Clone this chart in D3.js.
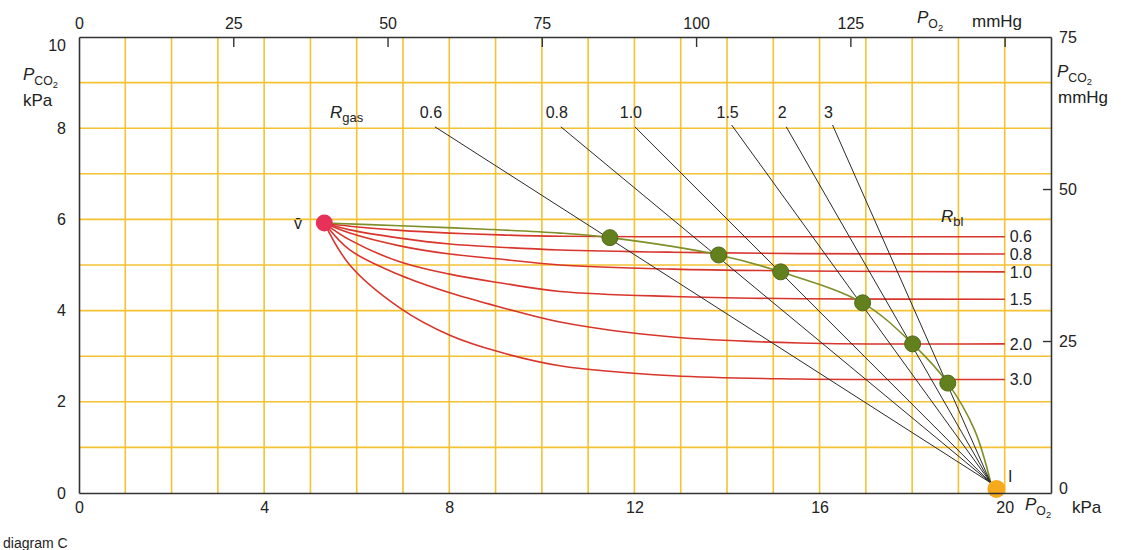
<html>
  <head>
    <meta charset="utf-8">
    <title>O2-CO2 diagram</title>
    <script src="https://d3js.org/d3.v7.min.js"></script>
    <style>
      body { margin: 0; background: #fff; }
      text { font-family: "Liberation Sans", Arial, sans-serif; fill: #222; }
    </style>
  </head>
  <body>
    <svg width="1121" height="550"></svg>

    <script type="text/javascript">
      // axis ticks
      var bottomTicks = [0, 4, 8, 12, 16, 20];          // PO2 kPa
      var leftTicks = [0, 2, 4, 6, 8, 10];              // PCO2 kPa
      var topTicksMmHg = [0, 25, 50, 75, 100, 125, 150]; // PO2 mmHg
      var rightTicksMmHg = [0, 25, 50, 75];             // PCO2 mmHg

      // special points (PO2 kPa, PCO2 kPa)
      var venous = [5.3, 5.92];
      var inspired = [19.82, 0.09];
      var gasFocus = [19.7, 0.22];

      // R gas lines: label + upper end
      var rGasLabels = ["0.6", "0.8", "1.0", "1.5", "2", "3"];
      var rGasStartPO2 = [7.69, 10.41, 12.01, 14.10, 15.28, 16.28];
      var rGasStartPCO2 = [8.03, 8.03, 8.03, 8.07, 8.03, 8.07];

      // R blood curves, read at these PO2 values
      var rBlLabels = ["0.6", "0.8", "1.0", "1.5", "2.0", "3.0"];
      var rBlPO2 = [5.3, 5.85, 6.93, 8.01, 9.09, 10.39, 12.83, 15.57, 20.0];
      var rBl06 = [5.92, 5.85, 5.76, 5.70, 5.66, 5.63, 5.62, 5.62, 5.62];
      var rBl08 = [5.92, 5.77, 5.59, 5.46, 5.39, 5.33, 5.28, 5.25, 5.24];
      var rBl10 = [5.92, 5.70, 5.42, 5.24, 5.13, 5.00, 4.91, 4.87, 4.85];
      var rBl15 = [5.92, 5.55, 5.07, 4.80, 4.61, 4.42, 4.31, 4.26, 4.25];
      var rBl20 = [5.92, 5.33, 4.78, 4.39, 4.08, 3.75, 3.42, 3.29, 3.27];
      var rBl30 = [5.92, 5.00, 4.06, 3.46, 3.09, 2.79, 2.57, 2.50, 2.49];

      // green curve (v-bar to I)
      var greenPO2 = [5.3, 6.93, 8.66, 10.39, 11.47, 13.82, 15.16, 16.93, 18.01, 18.77, 19.35, 19.7];
      var greenPCO2 = [5.92, 5.86, 5.79, 5.70, 5.60, 5.22, 4.85, 4.17, 3.27, 2.41, 1.38, 0.22];

      // green dots where R gas = R blood
      var dotPO2 = [11.47, 13.82, 15.16, 16.93, 18.01, 18.77];
      var dotPCO2 = [5.60, 5.22, 4.85, 4.17, 3.27, 2.41];

      var KPA2MMHG = 7.50062;
      var xScale = d3.scaleLinear().domain([0, 21]).range([79, 1051]);
      var yScale = d3.scaleLinear().domain([0, 10]).range([493, 37]);
      var xMm = d3.scaleLinear().domain([0, 21 * KPA2MMHG]).range([79, 1051]);
      var yMm = d3.scaleLinear().domain([0, 10 * KPA2MMHG]).range([493, 37]);

      var svg = d3.select("svg");

      // grid
      var grid = svg.append("g").attr("stroke", "#f4c232").attr("stroke-width", 1.6);
      grid.selectAll(".vg")
          .data(xScale.ticks(21).filter(d => d > 0 && d < 21))
          .enter().append("line")
          .attr("x1", d => xScale(d)).attr("x2", d => xScale(d))
          .attr("y1", yScale(10)).attr("y2", yScale(0));
      grid.selectAll(".hg")
          .data(yScale.ticks(10).filter(d => d > 0 && d < 10))
          .enter().append("line")
          .attr("x1", xScale(0)).attr("x2", xScale(21))
          .attr("y1", d => yScale(d)).attr("y2", d => yScale(d));

      var line = d3.line().x(d => xScale(d[0])).y(d => yScale(d[1])).curve(d3.curveCatmullRom.alpha(0.5));

      // red R blood curves
      var rBlSeries = [rBl06, rBl08, rBl10, rBl15, rBl20, rBl30];
      svg.append("g").selectAll("path")
          .data(rBlSeries)
          .enter().append("path")
          .attr("d", s => line(s.map((v, i) => [rBlPO2[i], v])))
          .attr("fill", "none")
          .attr("stroke", "#d8352c")
          .attr("stroke-width", 1.6);

      svg.append("g").selectAll("text")
          .data(rBlSeries)
          .enter().append("text")
          .attr("x", xScale(20) + 5)
          .attr("y", s => yScale(s[s.length - 1]))
          .attr("dy", "0.36em")
          .attr("font-size", 16)
          .text((s, i) => rBlLabels[i]);

      // green curve
      svg.append("path")
          .attr("d", line(greenPO2.map((v, i) => [v, greenPCO2[i]])))
          .attr("fill", "none")
          .attr("stroke", "#7d8f27")
          .attr("stroke-width", 1.6);

      // black R gas lines
      svg.append("g").selectAll("line")
          .data(rGasLabels)
          .enter().append("line")
          .attr("x1", (d, i) => xScale(rGasStartPO2[i]))
          .attr("y1", (d, i) => yScale(rGasStartPCO2[i]))
          .attr("x2", xScale(gasFocus[0]))
          .attr("y2", yScale(gasFocus[1]))
          .attr("stroke", "#2a2a2a")
          .attr("stroke-width", 1);

      svg.append("g").selectAll("text")
          .data(rGasLabels)
          .enter().append("text")
          .attr("x", (d, i) => xScale(rGasStartPO2[i]) - 4)
          .attr("y", 118)
          .attr("text-anchor", "middle")
          .attr("font-size", 16)
          .text(d => d);

      // dots
      svg.append("g").selectAll("circle")
          .data(dotPO2)
          .enter().append("circle")
          .attr("cx", d => xScale(d))
          .attr("cy", (d, i) => yScale(dotPCO2[i]))
          .attr("r", 8)
          .attr("fill", "#62801d")
          .attr("stroke", "#516b17")
          .attr("stroke-width", 1);

      svg.append("circle")
          .attr("cx", xScale(venous[0])).attr("cy", yScale(venous[1]))
          .attr("r", 8.5).attr("fill", "#e6325a");

      svg.append("circle")
          .attr("cx", xScale(inspired[0])).attr("cy", yScale(inspired[1]))
          .attr("r", 9).attr("fill", "#f6a91c");

      // axes
      var xAxis = d3.axisBottom(xScale).tickValues(bottomTicks).tickSize(0).tickPadding(9).tickSizeOuter(0);
      var yAxis = d3.axisLeft(yScale).tickValues(leftTicks).tickSize(0).tickPadding(13).tickSizeOuter(0);
      var topAxis = d3.axisTop(xMm).tickValues(topTicksMmHg).tickSizeInner(-10).tickSizeOuter(0).tickPadding(8)
          .tickFormat(d => d === 150 ? "" : d);
      var rightAxis = d3.axisRight(yMm).tickValues(rightTicksMmHg).tickSizeInner(-8).tickSizeOuter(0).tickPadding(8);

      var gx = svg.append("g").attr("transform", "translate(0," + yScale(0) + ")").call(xAxis);
      var gy = svg.append("g").attr("transform", "translate(" + xScale(0) + ",0)").call(yAxis);
      var gt = svg.append("g").attr("transform", "translate(0," + yScale(10) + ")").call(topAxis);
      var gr = svg.append("g").attr("transform", "translate(" + xScale(21) + ",0)").call(rightAxis);

      [gx, gy, gt, gr].forEach(function(g){
        g.attr("font-family", null).attr("font-size", null);
        g.select(".domain").attr("stroke", "#333").attr("stroke-width", 1.6);
        g.selectAll(".tick line").attr("stroke", "#333").attr("stroke-width", 1.4);
        g.selectAll("text").attr("font-size", 16).attr("fill", "#222");
      });
      gy.selectAll(".tick").filter(d => d === 10).select("text").attr("dy", "0.85em");
      gr.selectAll(".tick").filter(d => d === 0).select("text").attr("dy", "0em");
      gt.selectAll(".tick").filter(d => d === 0).select("line").remove();
      gr.selectAll(".tick").filter(d => d === 0 || d === 75).select("line").remove();

      // axis titles
      function pLabel(x, y, sub, size) {
        var t = svg.append("text").attr("x", x).attr("y", y).attr("font-size", size);
        t.append("tspan").attr("font-style", "italic").text("P");
        t.append("tspan").attr("dy", size * 0.3).attr("font-size", size * 0.72).text(sub);
        t.append("tspan").attr("dy", size * 0.18).attr("font-size", size * 0.55).text("2");
        return t;
      }
      pLabel(23, 80, "CO", 17);
      svg.append("text").attr("x", 23).attr("y", 106).attr("font-size", 17).text("kPa");

      pLabel(1057, 77, "CO", 17);
      svg.append("text").attr("x", 1058).attr("y", 103).attr("font-size", 17).text("mmHg");

      pLabel(917, 23, "O", 17);
      svg.append("text").attr("x", 972).attr("y", 27).attr("font-size", 17).text("mmHg");

      pLabel(1025, 510, "O", 17);
      svg.append("text").attr("x", 1072).attr("y", 513).attr("font-size", 17).text("kPa");

      // R gas / R bl titles
      var rg = svg.append("text").attr("x", 330).attr("y", 118).attr("font-size", 17);
      rg.append("tspan").attr("font-style", "italic").text("R");
      rg.append("tspan").attr("dy", 4).attr("font-size", 13).text("gas");

      var rb = svg.append("text").attr("x", 941).attr("y", 222).attr("font-size", 17);
      rb.append("tspan").attr("font-style", "italic").text("R");
      rb.append("tspan").attr("dy", 4).attr("font-size", 13).text("bl");

      // point labels
      svg.append("text").attr("x", 294).attr("y", 229).attr("font-size", 16).text("v\u0304");
      svg.append("text").attr("x", 1008).attr("y", 482).attr("font-size", 16).text("I");

      svg.append("text").attr("x", 3).attr("y", 548).attr("font-size", 14).text("diagram C");
    </script>
  </body>
</html>
